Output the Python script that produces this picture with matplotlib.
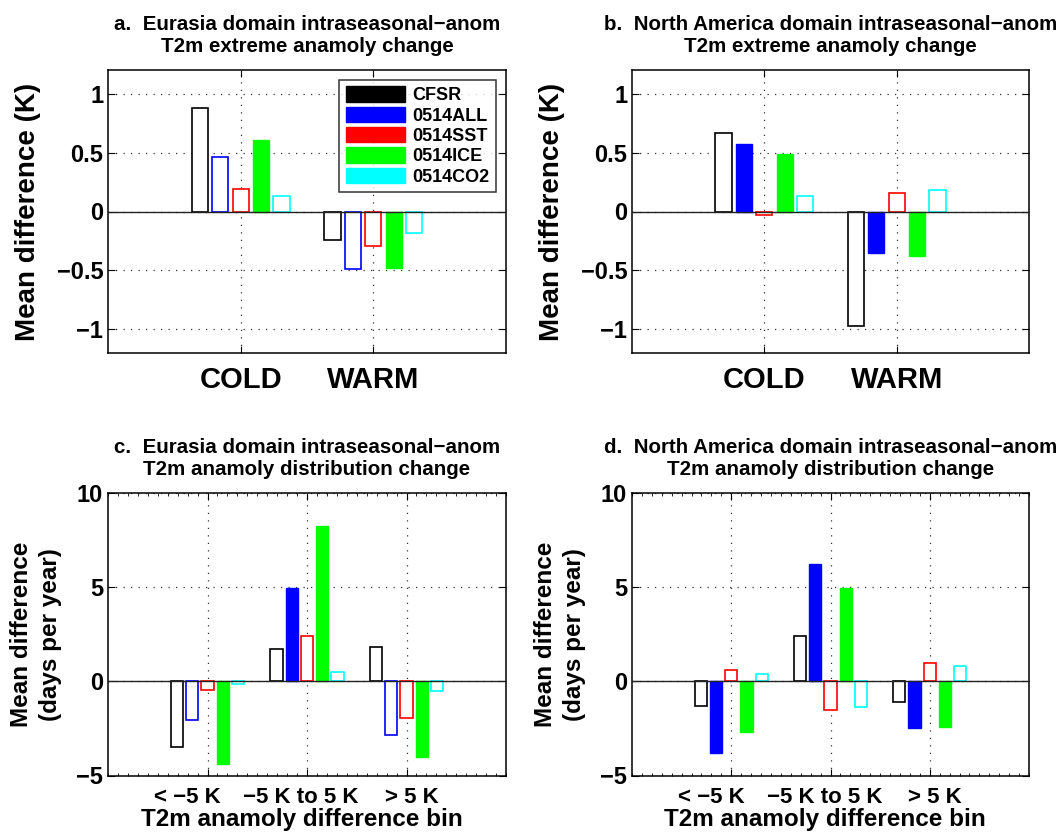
import matplotlib
matplotlib.use("Agg")
import matplotlib.pyplot as plt
import matplotlib.transforms as mtransforms
import numpy as np
from matplotlib.patches import Patch
from matplotlib.ticker import MultipleLocator

plt.rcParams['font.family'] = ['Liberation Sans', 'DejaVu Sans']
plt.rcParams['font.weight'] = 'bold'

series = ['CFSR', '0514ALL', '0514SST', '0514ICE', '0514CO2']
colors = ['#000000', '#0000ff', '#ff0000', '#00ff00', '#00ffff']

ext_cats = ['COLD', 'WARM']
bin_cats = ['< \u22125 K', '\u22125 K to 5 K', '> 5 K']

# panel a: Eurasia extremes (rows: series, cols: COLD, WARM)
a_vals = [[0.88, -0.24], [0.46, -0.485], [0.19, -0.29], [0.605, -0.475], [0.13, -0.185]]
a_fill = [[0, 0], [0, 0], [0, 0], [1, 1], [0, 0]]
# panel b: North America extremes
b_vals = [[0.665, -0.975], [0.57, -0.355], [-0.03, 0.155], [0.49, -0.375], [0.13, 0.185]]
b_fill = [[0, 0], [1, 1], [0, 0], [1, 1], [0, 0]]
# panel c: Eurasia distribution
c_vals = [[-3.5, 1.7, 1.8], [-2.07, 4.93, -2.86], [-0.48, 2.4, -1.93], [-4.38, 8.25, -4.0], [-0.16, 0.5, -0.53]]
c_fill = [[0, 0, 0], [0, 1, 0], [0, 0, 0], [1, 1, 1], [0, 0, 0]]
# panel d: North America distribution
d_vals = [[-1.3, 2.43, -1.1], [-3.8, 6.23, -2.47], [0.6, -1.53, 0.96], [-2.68, 4.98, -2.43], [0.37, -1.35, 0.8]]
d_fill = [[0, 0, 0], [1, 1, 1], [0, 0, 0], [1, 1, 1], [0, 0, 0]]

titles = ['a.  Eurasia domain intraseasonal\u2212anom\nT2m extreme anamoly change',
          'b.  North America domain intraseasonal\u2212anom\nT2m extreme anamoly change',
          'c.  Eurasia domain intraseasonal\u2212anom\nT2m anamoly distribution change',
          'd.  North America domain intraseasonal\u2212anom\nT2m anamoly distribution change']

fig = plt.figure(figsize=(10.63, 8.36), dpi=100)
W, H = 1063, 836
boxes = [(108, 70, 506, 353), (632, 70, 1029, 353), (108, 493, 506, 775.5), (632, 493, 1029, 775.5)]
axes = [fig.add_axes([l / W, 1 - b / H, (r - l) / W, (b - t) / H]) for (l, t, r, b) in boxes]

nb = len(series)
gw = nb / (nb + 1.5)
step = gw / nb
bw = step * 0.8


def draw(ax, vals, fills, cats):
    x = np.arange(1, len(cats) + 1)
    for i in range(nb):
        off = (i - (nb - 1) / 2) * step
        for j in range(len(cats)):
            v = vals[i][j]
            if fills[i][j]:
                ax.bar(x[j] + off, v, width=bw, color=colors[i], edgecolor=colors[i], linewidth=1.0, zorder=3)
            else:
                ax.bar(x[j] + off, v, width=bw, facecolor='white', edgecolor=colors[i], linewidth=1.2, zorder=3)
    ax.axhline(0, color='#222222', linewidth=1.0, zorder=4)
    ax.set_xlim(0, len(cats) + 1)
    ax.set_xticks(x)
    ax.set_xticklabels(cats)
    ax.grid(True, linestyle=(0, (1, 5)), color='#333333', linewidth=0.9, zorder=0)
    ax.set_axisbelow(True)
    ax.tick_params(direction='in', top=True, right=True, length=5, width=0.8)
    for s in ax.spines.values():
        s.set_linewidth(1.1)


bin_shift_px = [-20, -6, 5]

for k, (ax, vals, fills) in enumerate(zip(axes, [a_vals, b_vals, c_vals, d_vals], [a_fill, b_fill, c_fill, d_fill])):
    cats = ext_cats if k < 2 else bin_cats
    draw(ax, vals, fills, cats)
    ax.set_title(titles[k], fontsize=14.8, fontweight='bold', pad=13, linespacing=1.22)
    if k < 2:
        ax.set_ylim(-1.2, 1.2)
        ax.set_yticks([-1, -0.5, 0, 0.5, 1])
        ax.set_yticklabels(['\u22121', '\u22120.5', '0', '0.5', '1'])
        ax.set_ylabel('Mean difference (K)', fontsize=20, fontweight='bold', labelpad=11)
        ax.tick_params(axis='x', labelsize=21, pad=9)
        ax.tick_params(axis='y', labelsize=17)
    else:
        ax.set_ylim(-5, 10)
        ax.set_yticks([-5, 0, 5, 10])
        ax.set_yticklabels(['\u22125', '0', '5', '10'])
        ax.set_ylabel('Mean difference\n(days per year)', fontsize=17.5, fontweight='bold', labelpad=10, linespacing=1.35)
        ax.set_xlabel('T2m anamoly difference bin', fontsize=17.5, fontweight='bold', labelpad=1)
        ax.xaxis.set_label_coords(0.487, -0.115)
        ax.tick_params(axis='x', labelsize=16, pad=8)
        ax.tick_params(axis='y', labelsize=17)
        ax.xaxis.set_minor_locator(MultipleLocator(0.1))
        ax.tick_params(axis='x', which='minor', direction='in', top=True, length=2.5, width=0.6)
        for lab, dx in zip(ax.get_xticklabels(), bin_shift_px):
            lab.set_transform(lab.get_transform() + mtransforms.ScaledTranslation(dx / 100, 0, fig.dpi_scale_trans))
    for lab in ax.get_xticklabels() + ax.get_yticklabels():
        lab.set_fontweight('bold')

handles = [Patch(facecolor=c, edgecolor=c, label=s) for s, c in zip(series, colors)]
leg = axes[0].legend(handles=handles, loc='upper right', bbox_to_anchor=(0.975, 0.965),
                     fontsize=13, frameon=True, fancybox=False, edgecolor='black',
                     handlelength=3.3, handleheight=0.95, labelspacing=0.13, handletextpad=0.4,
                     borderpad=0.35, borderaxespad=0)
leg.get_frame().set_linewidth(1.1)
leg.set_zorder(10)
for t in leg.get_texts():
    t.set_fontweight('bold')

fig.savefig('out.png', dpi=100)
